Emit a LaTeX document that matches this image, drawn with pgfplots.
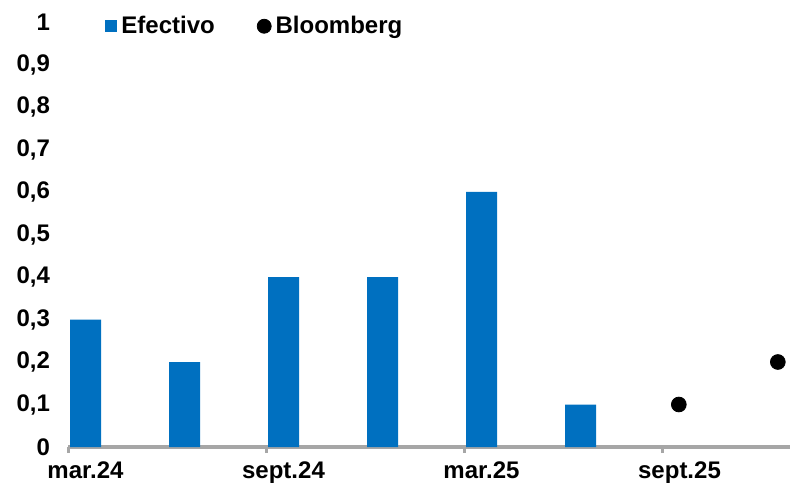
\documentclass[border=0pt]{standalone}
\usepackage{fontspec}
\setmainfont{Liberation Sans}
\usepackage{pgfplots}
\pgfplotsset{compat=1.18}
\definecolor{efblue}{HTML}{0070C0}
\definecolor{axgray}{HTML}{A6A6A6}
\begin{document}
\begin{tikzpicture}
\begin{axis}[
    name=ax,
    scale only axis,
    width=361pt, height=212.5pt,
    xmin=0, xmax=7.293,
    ymin=0, ymax=1,
    axis x line=bottom,
    axis y line=left,
    x axis line style={draw=axgray, line width=1.7pt, -},
    y axis line style={draw=none},
    xtick={0,2,4,6},
    xticklabels={mar.24, sept.24, mar.25, sept.25},
    xtick style={draw=axgray, line width=1.5pt},
    xtick align=outside,
    major tick length=3pt,
    xticklabel style={font=\bfseries\fontsize{12}{14}\selectfont, xshift=8.75pt, yshift=-1pt},
    ytick={0,0.1,...,1},
    ytick style={draw=none},
    yticklabel style={font=\bfseries\fontsize{12}{14}\selectfont, xshift=-4pt},
    /pgf/number format/.cd, use comma, fixed, precision=1, assume math mode=true,
    /pgfplots/.cd,
    legend style={at={(rel axis cs:0.043,0.99)}, anchor=west, draw=none,
                  legend columns=2, font=\bfseries\fontsize{12}{14}\selectfont,
                  /tikz/every even column/.append style={column sep=19pt}},
    legend cell align=left,
    clip=false,
]
\addplot[ybar, bar width=15.5pt, fill=efblue, draw=none,
    legend image code/.code={\fill[efblue] (0pt,-3pt) rectangle (6pt,3pt);}]
    coordinates {(0.177,0.3) (1.177,0.2) (2.177,0.4) (3.177,0.4) (4.177,0.6) (5.177,0.1)};
\addlegendentry{Efectivo}
\addplot[only marks, mark=*, mark size=3.7pt, mark options={fill=black, draw=black},
    legend image code/.code={\fill[black] (3.5pt,0pt) circle (3.5pt);}]
    coordinates {(6.17,0.1) (7.17,0.2)};
\addlegendentry{Bloomberg}
\end{axis}
\pgfresetboundingbox
\path (ax.south west) ++(-34pt,-20pt) coordinate (bl);
\path (ax.north east) ++(0pt,11pt) coordinate (tr);
\path[use as bounding box] (bl) rectangle (tr);
\end{tikzpicture}
\end{document}
